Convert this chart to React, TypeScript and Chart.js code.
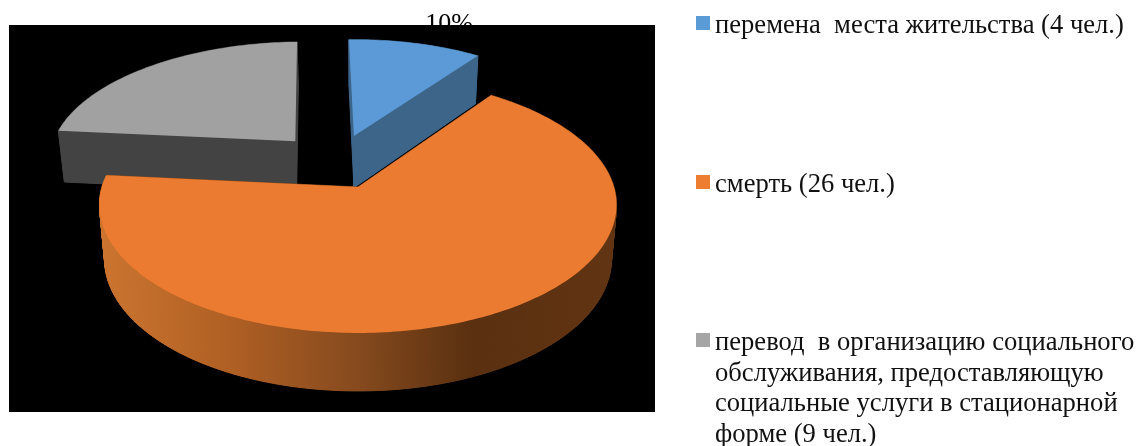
import React, { useEffect, useRef } from "react";
import { Chart, registerables } from "chart.js";

Chart.register(...registerables);

const categories = ["перемена  места жительства (4 чел.)", "смерть (26 чел.)", "перевод  в организацию социального обслуживания, предоставляющую социальные услуги в стационарной форме (9 чел.)"];
const values = [4, 26, 9];
const colors = ["#5b9bd5", "#ed7d31", "#a5a5a5"];
const topColors = ["#5b9ad6", "#ea7b30", "#a1a1a1"];
const wallColors = ["#3d658a", "#8a4c1e", "#434343"];
const legendLines = [
  ["перемена  места жительства (4 чел.)"],
  ["смерть (26 чел.)"],
  ["перевод  в организацию социального", "обслуживания, предоставляющую", "социальные услуги в стационарной", "форме (9 чел.)"],
];
const legendTops = [16, 175, 333];
const labelText = "10%";

// slice placement on the pie's plane: explosion offset and radius
const explodeU = [-0.017, 0, -0.258];
const explodeV = [0.43, 0, 0.385];
const radius = [0.975, 1, 0.995];
const drawOrder = [0, 2, 1];

const project = (u: number, v: number, z: number): [number, number] => {
  const w = 1 / (1 + 0.14 * v);
  const s = 1 - 0.02 * z;
  return [358 + 256 * u * w * s, 187 - 125.5 * v * w + z * (53.5 - 4.5 * v)];
};

const pie3d = {
  id: "pie3d",
  beforeDraw(chart: any) {
    const ctx = chart.ctx;
    ctx.save();
    ctx.fillStyle = "#000";
    ctx.font = '26px "Liberation Serif"';
    ctx.textAlign = "center";
    ctx.fillText(labelText, 449, 31);
    ctx.fillRect(9, 25, 646, 387);
    ctx.restore();
  },
  beforeDatasetDraw(chart: any, args: any) {
    const ctx = chart.ctx;
    const arcs = chart.getDatasetMeta(args.index).data;
    const grad = ctx.createLinearGradient(99, 0, 616, 0);
    grad.addColorStop(0, "#cc7530");
    grad.addColorStop(0.25, "#b06024");
    grad.addColorStop(0.5, "#864a1e");
    grad.addColorStop(0.72, "#5a3010");
    grad.addColorStop(1, "#613413");

    ctx.save();
    for (const i of drawOrder) {
      const arc = arcs[i];
      const cu = explodeU[i], cv = explodeV[i], r = radius[i];
      const pts: [number, number][] = [[cu, cv]];
      const steps = Math.ceil(((arc.endAngle - arc.startAngle) * 180) / Math.PI);
      for (let k = 0; k <= steps; k++) {
        const a = arc.startAngle + ((arc.endAngle - arc.startAngle) * k) / steps;
        pts.push([cu + r * Math.cos(a), cv - r * Math.sin(a)]);
      }
      const poly = (z: number, fill: any) => {
        ctx.beginPath();
        pts.forEach(([u, v], k) => {
          const [x, y] = project(u, v, z);
          k ? ctx.lineTo(x, y) : ctx.moveTo(x, y);
        });
        ctx.closePath();
        ctx.fillStyle = fill;
        ctx.fill();
      };
      const isOuter = (k: number) => k > 0 && k < pts.length - 1;
      poly(1, wallColors[i]);
      const walls = pts.map((p, k) => {
        const q = pts[(k + 1) % pts.length];
        return { p, q, k, depth: (p[1] + q[1]) / 2 };
      });
      walls.sort((a, b) => b.depth - a.depth);
      for (const { p, q, k } of walls) {
        const a1 = project(p[0], p[1], 0), b1 = project(q[0], q[1], 0);
        const b2 = project(q[0], q[1], 1), a2 = project(p[0], p[1], 1);
        ctx.beginPath();
        ctx.moveTo(a1[0], a1[1]);
        ctx.lineTo(b1[0], b1[1]);
        ctx.lineTo(b2[0], b2[1]);
        ctx.lineTo(a2[0], a2[1]);
        ctx.closePath();
        const style = i === 1 && isOuter(k) ? grad : wallColors[i];
        ctx.fillStyle = style;
        ctx.strokeStyle = style;
        ctx.lineWidth = 1;
        ctx.fill();
        ctx.stroke();
      }
      poly(0, topColors[i]);
    }
    ctx.restore();
    return false;
  },
};

export default function App() {
  const ref = useRef<HTMLCanvasElement>(null);
  useEffect(() => {
    const chart = new Chart(ref.current as HTMLCanvasElement, {
      type: "pie",
      data: { labels: categories, datasets: [{ data: values, backgroundColor: colors, borderWidth: 0 }] },
      options: {
        animation: false,
        responsive: false,
        rotation: -1.5,
        plugins: { legend: { display: false }, tooltip: { enabled: false } },
      },
      plugins: [pie3d],
    } as any);
    return () => chart.destroy();
  }, []);
  return (
    <div style={{ position: "absolute", left: 0, top: 0, width: 1139, height: 446, overflow: "hidden", background: "#fff" }}>
      <canvas ref={ref} width={1139} height={446} style={{ display: "block", position: "absolute", left: 0, top: 0 }} />
      {legendLines.map((lines, i) => (
        <div key={i}>
          <div style={{ position: "absolute", left: 696, top: legendTops[i], width: 14, height: 14, background: colors[i] }} />
          {lines.map((line, j) => (
            <div
              key={j}
              style={{
                position: "absolute",
                left: 715,
                top: legendTops[i] - 7 + j * 30.5,
                font: '26.6px/30px "Liberation Serif"',
                color: "#111",
                whiteSpace: "pre",
              }}
            >
              {line}
            </div>
          ))}
        </div>
      ))}
    </div>
  );
}
